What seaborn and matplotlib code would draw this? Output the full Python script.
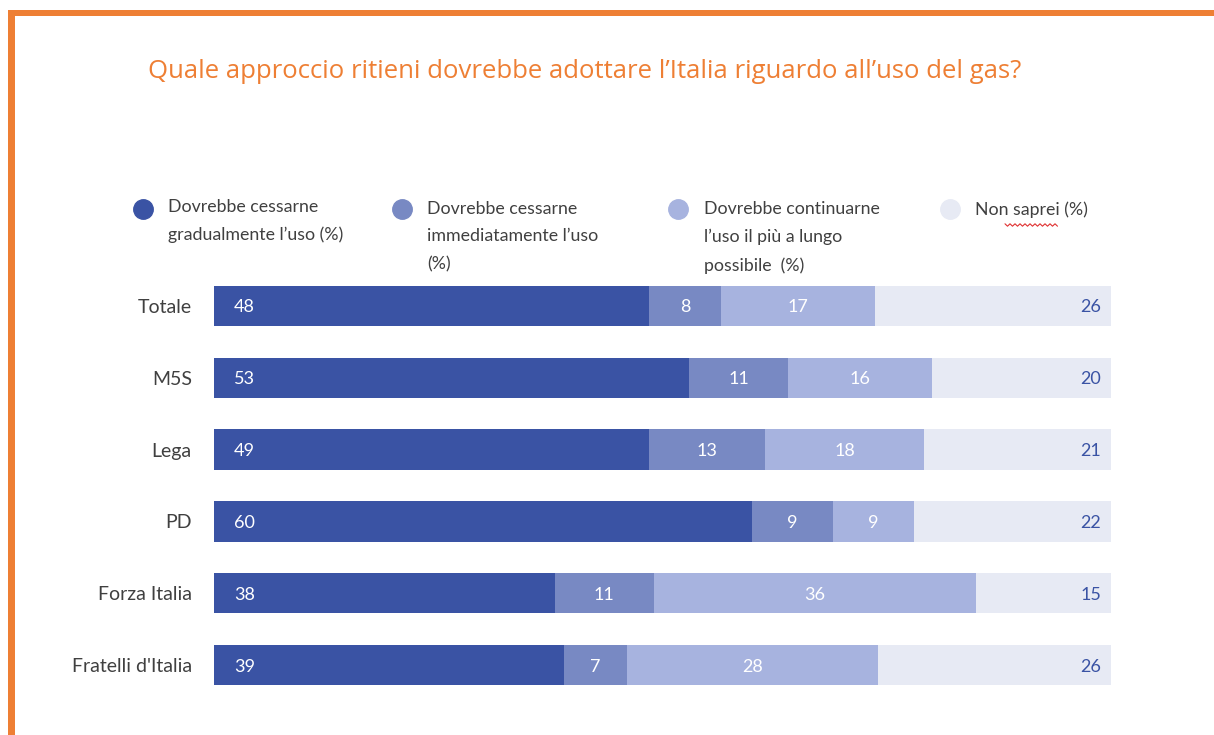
import matplotlib as mpl
import matplotlib.pyplot as plt
import numpy as np
import pandas as pd
import seaborn as sns
from matplotlib.lines import Line2D
from matplotlib.patches import Rectangle

mpl.use("Agg")

# Survey data (% of respondents)
categories = ["Totale", "M5S", "Lega", "PD", "Forza Italia", "Fratelli d'Italia"]
gradual = [48, 53, 49, 60, 38, 39]
immediate = [8, 11, 13, 9, 11, 7]
keep_using = [17, 16, 18, 9, 36, 28]
dont_know = [26, 20, 21, 22, 15, 26]

series_labels = [
    "Dovrebbe cessarne\ngradualmente l\u2019uso (%)",
    "Dovrebbe cessarne\nimmediatamente l\u2019uso\n(%)",
    "Dovrebbe continuarne\nl\u2019uso il pi\u00f9 a lungo\npossibile  (%)",
    "Non saprei (%)",
]
colors = ["#3A53A4", "#7889C3", "#A7B3DF", "#E7EAF4"]
title = "Quale approccio ritieni dovrebbe adottare l\u2019Italia riguardo all\u2019uso del gas?"

W, H = 1214, 735
ORANGE = "#EE7F34"


def fx(px):
    return px / W


def fy(py):
    return 1 - py / H


def main():
    df = pd.DataFrame(
        {"cat": categories, "s0": gradual, "s1": immediate, "s2": keep_using, "s3": dont_know}
    )
    cols = ["s0", "s1", "s2", "s3"]
    totals = df[cols].sum(axis=1)
    # bars are drawn as full 100% stacks
    shares = df[cols].div(totals, axis=0) * 100
    cum = shares.cumsum(axis=1)

    sns.set_theme(style="white")
    plt.rcParams["font.family"] = ["Lato", "DejaVu Sans"]

    fig = plt.figure(figsize=(W / 100, H / 100), dpi=100)
    ax = fig.add_axes([fx(214), fy(701), fx(1111) - fx(214), fy(270) - fy(701)])

    # draw back to front so the cumulative bars look stacked
    for i in reversed(range(4)):
        sns.barplot(
            x=cum[cols[i]], y=df["cat"], orient="h", color=colors[i],
            saturation=1, width=0.56, linewidth=0, ax=ax,
        )

    for row in range(len(df)):
        starts = [0] + list(cum.iloc[row, :3])
        ends = list(cum.iloc[row])
        for i, c in enumerate(cols):
            val = df.loc[row, c]
            if i == 0:
                ax.text(starts[i] + 2.2, row + 0.02, f"{val}", ha="left", va="center",
                        color="white", fontsize=13)
            elif i == 3:
                ax.text(ends[i] - 1.1, row + 0.02, f"{val}", ha="right", va="center",
                        color=colors[0], fontsize=13)
            else:
                ax.text((starts[i] + ends[i]) / 2, row + 0.02, f"{val}", ha="center",
                        va="center", color="white", fontsize=13)

    ax.set_xlim(0, 100)
    ax.set_ylim(5.5, -0.5)
    ax.set_xlabel("")
    ax.set_ylabel("")
    ax.set_xticks([])
    ax.tick_params(axis="y", length=0, pad=16, labelsize=14, labelcolor="#404040")
    sns.despine(ax=ax, left=True, bottom=True)

    # legend drawn by hand to mimic the wrapped labels
    marker_x = [143, 402, 678, 950]
    text_x = [168, 427, 704, 975]
    text_top = [199, 201, 201, 201]
    for i in range(4):
        fig.add_artist(Line2D([fx(marker_x[i])], [fy(209)], marker="o", markersize=14,
                              color=colors[i], linestyle="none"))
        fig.text(fx(text_x[i]), fy(text_top[i]), series_labels[i], ha="left", va="top",
                 fontsize=12.8, color="#404040", linespacing=1.88)

    # spell-check squiggle under "saprei", as in the source screenshot
    sq_x = np.arange(1005, 1058, 2.5)
    sq_y = 225 + np.where(np.arange(len(sq_x)) % 2 == 0, -1.2, 1.2)
    fig.add_artist(Line2D(fx(sq_x), fy(sq_y), color="#E03030", lw=0.8))

    fig.text(fx(148), fy(72), title, ha="left", va="center", fontsize=18.5,
             color=ORANGE, family=["Open Sans", "DejaVu Sans"])

    # orange frame on top and left
    fig.add_artist(Rectangle((fx(8), fy(16)), 1 - fx(8), fy(10) - fy(16),
                             color=ORANGE, lw=0))
    fig.add_artist(Rectangle((fx(8), 0), fx(15) - fx(8), fy(10),
                             color=ORANGE, lw=0))

    fig.savefig("out.png", dpi=100)
    plt.close(fig)


if __name__ == "__main__":
    main()
